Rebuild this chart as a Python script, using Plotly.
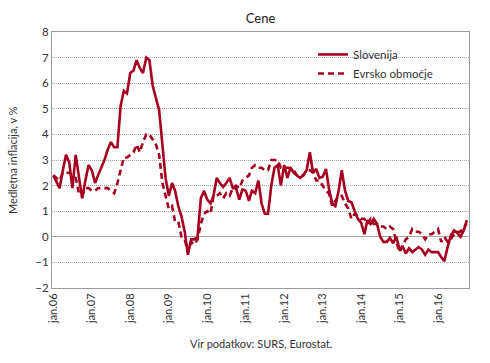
import plotly.graph_objects as go
import pandas as pd

# Monthly year-on-year inflation, Jan 2006 - Oct 2016
slovenija = [
    2.4, 2.1, 1.9, 2.6, 3.2, 2.9, 1.9, 3.2, 2.3, 1.5, 2.2, 2.8,      # 2006
    2.6, 2.1, 2.4, 2.7, 3.0, 3.4, 3.7, 3.5, 3.5, 5.1, 5.7, 5.6,      # 2007
    6.4, 6.5, 6.9, 6.6, 6.4, 7.0, 6.9, 5.9, 5.4, 4.95, 3.6, 2.3,     # 2008
    1.6, 2.1, 1.8, 1.2, 0.8, 0.2, -0.7, -0.1, -0.1, 0.0, 1.5, 1.8,   # 2009
    1.45, 1.3, 1.6, 2.3, 2.1, 1.95, 2.1, 2.3, 1.9, 1.9, 1.45, 1.85,  # 2010
    1.8, 1.4, 1.8, 1.7, 2.2, 1.3, 0.9, 0.9, 2.0, 2.7, 2.8, 2.0,      # 2011
    2.8, 2.3, 2.7, 2.5, 2.4, 2.3, 2.4, 2.6, 3.3, 2.5, 2.65, 2.3,     # 2012
    2.35, 2.65, 1.9, 1.3, 1.2, 1.8, 2.6, 1.8, 1.4, 1.35, 1.0, 0.7,   # 2013
    0.55, 0.1, 0.65, 0.5, 0.7, 0.5, 0.0, -0.2, -0.2, -0.05, -0.25, 0.0,  # 2014
    -0.5, -0.4, -0.65, -0.45, -0.6, -0.5, -0.4, -0.5, -0.7, -0.5, -0.6, -0.6,  # 2015
    -0.6, -0.8, -0.95, -0.4, 0.05, 0.25, 0.15, 0.0, 0.25, 0.65,     # 2016
]
evrsko = [
    2.4, 2.3, 2.2, 2.5, 2.5, 2.5, 2.4, 2.3, 1.7, 1.6, 1.9, 1.9,
    1.8, 1.8, 1.9, 1.9, 1.9, 1.9, 1.8, 1.7, 2.1, 2.6, 3.1, 3.1,
    3.2, 3.3, 3.6, 3.3, 3.7, 4.0, 4.0, 3.8, 3.6, 3.2, 2.1, 1.6,
    1.1, 1.2, 0.6, 0.6, 0.0, -0.1, -0.6, -0.2, -0.3, -0.1, 0.5, 0.9,
    1.0, 0.9, 1.6, 1.6, 1.7, 1.5, 1.7, 1.6, 1.9, 2.0, 1.9, 2.2,
    2.3, 2.4, 2.7, 2.8, 2.7, 2.7, 2.6, 2.6, 3.0, 3.0, 3.0, 2.7,
    2.7, 2.7, 2.7, 2.6, 2.4, 2.4, 2.4, 2.6, 2.6, 2.5, 2.2, 2.2,
    2.0, 1.8, 1.7, 1.2, 1.4, 1.6, 1.6, 1.3, 1.1, 0.7, 0.9, 0.8,
    0.7, 0.7, 0.5, 0.7, 0.5, 0.5, 0.4, 0.4, 0.3, 0.4, 0.3, -0.2,
    -0.6, -0.3, -0.1, 0.0, 0.3, 0.2, 0.2, 0.1, -0.1, 0.1, 0.1, 0.2,
    0.3, -0.2, 0.0, -0.2, -0.1, 0.1, 0.2, 0.2, 0.4, 0.5,
]
months = pd.date_range("2006-01-01", periods=len(slovenija), freq="MS")

tick_years = list(range(2006, 2017))
tick_vals = [f"{y}-01-01" for y in tick_years]
tick_text = [f"jan.{str(y)[2:]}" for y in tick_years]

RED = "#A50021"
FONT = "Lato"
GRID = "#9a9a9a"

fig = go.Figure()
fig.add_trace(go.Scatter(x=months, y=slovenija, mode="lines", name="Slovenija",
                         line=dict(color=RED, width=2.6)))
fig.add_trace(go.Scatter(x=months, y=evrsko, mode="lines", name="Evrsko območje",
                         line=dict(color=RED, width=2.6, dash="6px,4px")))

fig.add_shape(type="rect", xref="paper", yref="y", x0=0.576, x1=0.983, y0=5.45, y1=7.6,
              fillcolor="white", line=dict(width=0), layer="between")

fig.update_layout(
    width=490, height=363,
    margin=dict(l=52, r=21, t=32, b=75),
    paper_bgcolor="white", plot_bgcolor="white",
    font=dict(family=FONT, size=11, color="#333333"),
    title=dict(text="Cene", x=0.5, xref="paper", xanchor="center", y=0.948, yanchor="middle",
               font=dict(family=FONT, size=13, color="#222222")),
    showlegend=True,
    legend=dict(x=0.626, y=0.969, xanchor="left", yanchor="top", bgcolor="rgba(0,0,0,0)",
                font=dict(family=FONT, size=11.5, color="#333333"), tracegroupgap=2),
    xaxis=dict(type="date", range=["2005-12-19", "2016-10-21"],
               tickvals=tick_vals, ticktext=tick_text, tickangle=-90,
               showgrid=False, showline=True, linecolor=GRID, linewidth=1, mirror=True,
               ticks="", tickfont=dict(family=FONT, size=11, color="#333333")),
    yaxis=dict(range=[-2, 8], dtick=1, tick0=0, showgrid=True, gridcolor="#a4a4a4",
               griddash="1px,1px", gridwidth=1, zeroline=True, zerolinecolor="#a8a8a8",
               zerolinewidth=1, showline=True, linecolor=GRID, linewidth=1, mirror=True,
               ticks="", tickfont=dict(family=FONT, size=11.5, color="#333333")),
    annotations=[
        dict(text="Medletna inflacija, v %", xref="paper", yref="paper", x=-0.096, y=0.5,
             textangle=-90, showarrow=False, xanchor="center", yanchor="middle",
             font=dict(family=FONT, size=11, color="#333333")),
        dict(text="Vir podatkov: SURS, Eurostat.", xref="paper", yref="paper", x=0.5, y=-0.215,
             showarrow=False, xanchor="center", yanchor="middle",
             font=dict(family=FONT, size=11, color="#333333")),
    ],
)

fig.write_html("out.html", config={"displayModeBar": False},
               post_script="document.body.style.margin='0';document.body.style.overflow='hidden';")
